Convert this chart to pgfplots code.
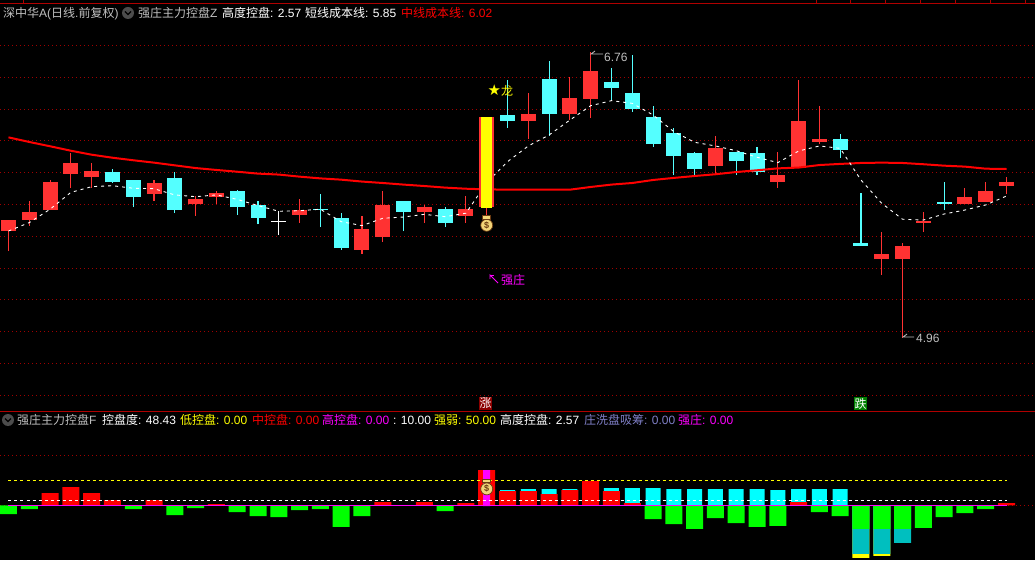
\documentclass[border=0pt]{standalone}
\usepackage{fontspec}
\usepackage{pgfplots}
\usepackage{pgfplotstable}
\pgfplotsset{compat=1.18}
\setmainfont{Liberation Sans}
\newfontfamily\cjk{Noto Sans CJK SC}
\newfontfamily\symf{DejaVu Sans}
\newcommand\cj[1]{{\cjk #1}}

\definecolor{candlered}{HTML}{FF3232}
\definecolor{candlecyan}{HTML}{54FFFF}
\definecolor{griddark}{HTML}{A00000}
\definecolor{framered}{HTML}{B00000}
\definecolor{washblue}{HTML}{8080C8}
\definecolor{teal2}{HTML}{00BFBF}
\definecolor{bagc}{HTML}{F2D478}
\definecolor{bagd}{HTML}{6A3A10}
\definecolor{pureyellow}{HTML}{FFFF00}
\definecolor{purecyan}{HTML}{00FFFF}
\definecolor{puremagenta}{HTML}{FF00FF}
\definecolor{puregreen}{HTML}{00FF00}
\definecolor{purered}{HTML}{FF0000}

% candles: index, body top, body bottom, high, low
\pgfplotstableread{
i top bot hi lo
0 5.701 5.632 5.701 5.506
1 5.752 5.701 5.821 5.664
2 5.940 5.764 5.953 5.764
3 6.060 5.991 6.123 5.903
4 6.010 5.972 6.060 5.903
7 5.934 5.865 5.953 5.821
9 5.833 5.802 5.852 5.727
10 5.871 5.846 5.884 5.802
14 5.764 5.733 5.833 5.683
17 5.645 5.513 5.727 5.488
18 5.796 5.595 5.884 5.563
20 5.783 5.752 5.796 5.683
22 5.771 5.727 5.852 5.683
25 6.368 6.324 6.500 6.211
27 6.469 6.368 6.601 6.330
28 6.638 6.462 6.760 6.343
34 6.154 6.041 6.230 5.991
37 5.984 5.940 6.129 5.903
38 6.324 6.028 6.582 6.028
39 6.211 6.192 6.418 6.179
42 5.488 5.456 5.626 5.356
43 5.538 5.456 5.557 4.960
44 5.695 5.683 5.752 5.626
46 5.846 5.802 5.903 5.802
47 5.884 5.815 5.940 5.815
48 5.940 5.915 5.972 5.865
}\redcandles

\pgfplotstableread{
i top bot hi lo
5 6.003 5.940 6.022 5.934
6 5.953 5.846 5.953 5.783
8 5.966 5.764 6.003 5.745
11 5.884 5.783 5.890 5.733
12 5.796 5.714 5.821 5.676
15 5.771 5.764 5.865 5.657
16 5.714 5.525 5.745 5.513
19 5.821 5.752 5.821 5.632
21 5.771 5.683 5.783 5.657
24 6.362 6.324 6.582 6.280
26 6.588 6.368 6.701 6.230
29 6.569 6.532 6.657 6.450
30 6.500 6.399 6.739 6.381
31 6.349 6.179 6.418 6.161
32 6.249 6.104 6.280 5.984
33 6.123 6.022 6.129 5.984
35 6.129 6.072 6.129 5.984
36 6.123 6.003 6.161 5.984
40 6.211 6.142 6.242 6.091
41 5.557 5.538 5.871 5.538
45 5.815 5.802 5.940 5.764
}\cyancandles

\pgfplotstableread{
i top bot hi lo
13 5.695 5.689 5.758 5.607
}\whitecandles

\pgfplotstableread{
i top bot hi lo
23 6.349 5.783 6.349 5.733
}\bigred

\pgfplotstableread{
i top bot hi lo
23 6.349 5.777 6.349 5.777
}\bigyellow

% cost lines, one value per day
\pgfplotstableread{
i mid short
0 6.221 5.632
1 6.192 5.685
2 6.165 5.769
3 6.137 5.875
4 6.112 5.911
5 6.093 5.917
6 6.077 5.901
7 6.062 5.898
8 6.045 5.859
9 6.028 5.848
10 6.016 5.859
11 6.005 5.831
12 5.993 5.792
13 5.987 5.756
14 5.974 5.760
15 5.963 5.769
16 5.955 5.691
17 5.943 5.666
18 5.934 5.712
19 5.924 5.720
20 5.915 5.737
21 5.905 5.722
22 5.898 5.744
23 5.894 5.936
24 5.892 6.068
25 5.892 6.167
26 5.892 6.236
27 5.892 6.330
28 5.909 6.420
29 5.924 6.452
30 5.934 6.435
31 5.953 6.362
32 5.966 6.257
33 5.978 6.190
34 5.989 6.167
35 6.003 6.137
36 6.014 6.096
37 6.026 6.062
38 6.031 6.135
39 6.047 6.167
40 6.054 6.152
41 6.060 5.953
42 6.062 5.806
43 6.060 5.706
44 6.052 5.701
45 6.043 5.739
46 6.037 5.764
47 6.024 5.796
48 6.022 5.852
}\costlines

% lower panel: red, green, cyan columns
\pgfplotstableread{
i v
2 24.7
3 36.7
4 24.7
5 10.7
7 10.7
10 2.7
18 6.7
20 6.7
22 4.7
23 70.7
24 28.7
25 28.7
26 22.7
27 30.7
28 48.7
29 28.7
30 4.7
38 6.7
48 4.7
}\barsred

\pgfplotstableread{
i v
0 -17.3
1 -7.3
6 -7.3
8 -19.3
9 -5.3
11 -13.3
12 -21.3
13 -23.3
14 -9.3
15 -7.3
16 -43.3
17 -21.3
21 -11.3
31 -27.3
32 -37.3
33 -47.3
34 -25.3
35 -35.3
36 -43.3
37 -41.3
39 -13.3
40 -21.3
41 -47.3
42 -47.3
43 -47.3
44 -45.3
45 -23.3
46 -15.3
47 -7.3
}\barsgreen

\pgfplotstableread{
i v
24 30.7
25 32.7
26 32.7
27 32.7
29 34.7
30 34.7
31 34.7
32 32.7
33 32.7
34 32.7
35 32.7
36 32.7
37 30.7
38 32.7
39 32.7
40 32.7
}\barscyan

\pgfplotsset{
  panel/.style={
    scale only axis, width=1035pt,
    xmin=-0.4088, xmax=49.37,
    axis line style={draw=none},
    major tick style={draw=none},
    xtick=\empty, yticklabels={},
    ymajorgrids,
    major grid style={griddark, line width=0.8pt, dash pattern=on 1pt off 3pt},
    clip=true,
  },
  wick/.style={draw=none, no markers, forget plot,
    error bars/.cd, y dir=plus, y explicit, error mark=none,
    error bar style={draw=#1, line width=1.1pt, solid}},
  body/.style={draw=none, no markers, forget plot,
    error bars/.cd, y dir=plus, y explicit, error mark=none,
    error bar style={draw=#1, line width=15pt, solid}},
  column/.style 2 args={ybar, bar width=#2pt, bar shift=0pt, fill=#1, draw=none, forget plot},
}

% text at pixel position: x, baseline y, colour, text
\newcommand\lbl[4]{\node[anchor=base west, inner sep=0pt, text=#3] at (#1pt,560pt-#2pt) {\fontsize{12}{12}\selectfont #4};}
\newcommand\icon[2]{%
  \fill[gray!60!black] (#1pt,560pt-#2pt) circle (6pt);
  \draw[black, line width=1.1pt] (#1pt-3pt,560pt-#2pt+1.5pt) -- (#1pt,560pt-#2pt-1.5pt) -- (#1pt+3pt,560pt-#2pt+1.5pt);}
\newcommand\bag[2]{%
  \node[circle, fill=bagc, draw=bagd, line width=0.7pt, inner sep=0pt, minimum size=12pt, text=bagd] (b) at (axis cs:#1,#2) {\fontsize{9}{9}\selectfont\bfseries\$};
  \node[fill=bagc, draw=bagd, line width=0.7pt, inner sep=0pt, minimum width=8pt, minimum height=3.5pt, anchor=south] at ([yshift=-0.5pt]b.north) {};}

\begin{document}
\begin{tikzpicture}
\useasboundingbox (0,0) rectangle (1035pt,560pt);
\fill[black] (0,0) rectangle (1035pt,560pt);

\begin{axis}[panel, at={(0pt,149pt)}, anchor=south west, height=411pt,
    ymin=4.5, ymax=7.085,
    ytick={4.6,4.8,5.0,5.2,5.4,5.6,5.8,6.0,6.2,6.4,6.6,6.8}]

  % wicks then bodies
  \addplot[wick=candlered] table[x=i, y=lo, y error expr=\thisrow{hi}-\thisrow{lo}] \redcandles;
  \addplot[body=candlered] table[x=i, y=bot, y error expr=\thisrow{top}-\thisrow{bot}] \redcandles;
  \addplot[wick=candlecyan] table[x=i, y=lo, y error expr=\thisrow{hi}-\thisrow{lo}] \cyancandles;
  \addplot[body=candlecyan] table[x=i, y=bot, y error expr=\thisrow{top}-\thisrow{bot}] \cyancandles;
  \addplot[wick=white] table[x=i, y=lo, y error expr=\thisrow{hi}-\thisrow{lo}] \whitecandles;
  \addplot[body=white] table[x=i, y=bot, y error expr=\thisrow{top}-\thisrow{bot}] \whitecandles;

  % cost lines
  \addplot[purered, line width=2pt, mark=none, forget plot] table[x=i, y=mid] \costlines;
  \addplot[white, line width=0.9pt, mark=none, dash pattern=on 3pt off 4pt, forget plot] table[x=i, y=short] \costlines;

  % signal day
  \addplot[wick=candlered] table[x=i, y=lo, y error expr=\thisrow{hi}-\thisrow{lo}] \bigred;
  \addplot[body=candlered] table[x=i, y=bot, y error expr=\thisrow{top}-\thisrow{bot}] \bigred;
  \addplot[draw=none, no markers, forget plot, error bars/.cd, y dir=plus, y explicit, error mark=none,
    error bar style={draw=pureyellow, line width=11pt, solid}]
    table[x=i, y=bot, y error expr=\thisrow{top}-\thisrow{bot}] \bigyellow;

  \bag{23}{5.668}
\end{axis}

\begin{axis}[panel, at={(0pt,0pt)}, anchor=south west, height=149pt,
    ymin=-109.4, ymax=189,
    ytick={0,100}]
  \addplot[column={pureyellow}{17}] coordinates {(41,-105.3) (42,-101.3)};
  \addplot[column={teal2}{17}] coordinates {(41,-97.3) (42,-97.3) (43,-75.3)};
  \addplot[column={puregreen}{17}] table[x=i, y=v] \barsgreen;
  \addplot[column={purecyan}{15}] table[x=i, y=v] \barscyan;
  \addplot[column={purered}{17}] table[x=i, y=v] \barsred;
  \addplot[column={purered}{17}] coordinates {(23,-1.3)};
  \addplot[column={puremagenta}{7}] coordinates {(23,70.7) (23,-1.3)};

  \addplot[pureyellow, line width=0.9pt, dash pattern=on 3pt off 3pt, mark=none, forget plot] coordinates {(0,50) (48,50)};
  \addplot[white, line width=0.9pt, dash pattern=on 3pt off 3pt, mark=none, forget plot] coordinates {(0,10) (48,10)};
  \addplot[puremagenta, line width=1pt, mark=none, forget plot] coordinates {(0,0) (48,0)};

  \bag{23}{33}
\end{axis}

% frame lines and time ticks along the top
\draw[framered, line width=1pt] (0,560pt-3.5pt) -- (1035pt,560pt-3.5pt);
\draw[framered, line width=1pt] (0,560pt-411pt) -- (1035pt,560pt-411pt);
\foreach \t in {23.5,816.7,850.3,885,920,955,990,1025}
  \draw[framered, line width=1pt] (\t pt,560pt) -- (\t pt,560pt-3.5pt);

% upper header
\lbl{3}{17.5}{lightgray}{\cj{深中华}A(\cj{日线}.\cj{前复权})}
\icon{128}{13}
\lbl{138}{17.5}{lightgray}{\cj{强庄主力控盘}Z}
\lbl{222}{17.5}{white}{\cj{高度控盘}: 2.57}
\lbl{305}{17.5}{white}{\cj{短线成本线}: 5.85}
\lbl{401}{17.5}{purered}{\cj{中线成本线}: 6.02}

% chart annotations
\node[anchor=base west, inner sep=0pt, text=pureyellow] at (487.5pt,560pt-96pt) {\fontsize{15}{15}\selectfont\symf ★};
\lbl{501}{95.5}{pureyellow}{\cj{龙}}
\lbl{604}{61.5}{lightgray}{6.76}
\lbl{916}{342.5}{lightgray}{4.96}
\draw[lightgray, line width=0.8pt] (603pt,560pt-54pt) -- (591pt,560pt-54pt) -- (595pt,560pt-51pt);
\draw[lightgray, line width=0.8pt] (914pt,560pt-337pt) -- (903pt,560pt-337pt) -- (907pt,560pt-334pt);
\draw[puremagenta, line width=0.8pt] (498pt,560pt-283pt) -- (490pt,560pt-275pt) -- (490pt,560pt-279pt);
\draw[puremagenta, line width=0.8pt] (490pt,560pt-275pt) -- (494pt,560pt-275pt);
\lbl{501}{284.5}{puremagenta}{\cj{强庄}}

% up and down flags
\node[fill=red!55!black, text=white, inner sep=0pt, minimum width=13pt, minimum height=13pt] at (485.5pt,560pt-403.5pt) {\fontsize{12}{12}\selectfont\cj{涨}};
\node[fill=green!50!black, text=white, inner sep=0pt, minimum width=13pt, minimum height=13pt] at (860.5pt,560pt-403.5pt) {\fontsize{12}{12}\selectfont\cj{跌}};

% lower header
\icon{8}{420}
\lbl{17}{424.5}{lightgray}{\cj{强庄主力控盘}F}
\lbl{102}{424.5}{white}{\cj{控盘度}: 48.43}
\lbl{180}{424.5}{pureyellow}{\cj{低控盘}: 0.00}
\lbl{252}{424.5}{purered}{\cj{中控盘}: 0.00}
\lbl{322}{424.5}{puremagenta}{\cj{高控盘}: 0.00}
\lbl{393}{424.5}{white}{: 10.00}
\lbl{434}{424.5}{pureyellow}{\cj{强弱}: 50.00}
\lbl{500}{424.5}{white}{\cj{高度控盘}: 2.57}
\lbl{584}{424.5}{washblue}{\cj{庄洗盘吸筹}: 0.00}
\lbl{678}{424.5}{puremagenta}{\cj{强庄}: 0.00}
\end{tikzpicture}
\end{document}
